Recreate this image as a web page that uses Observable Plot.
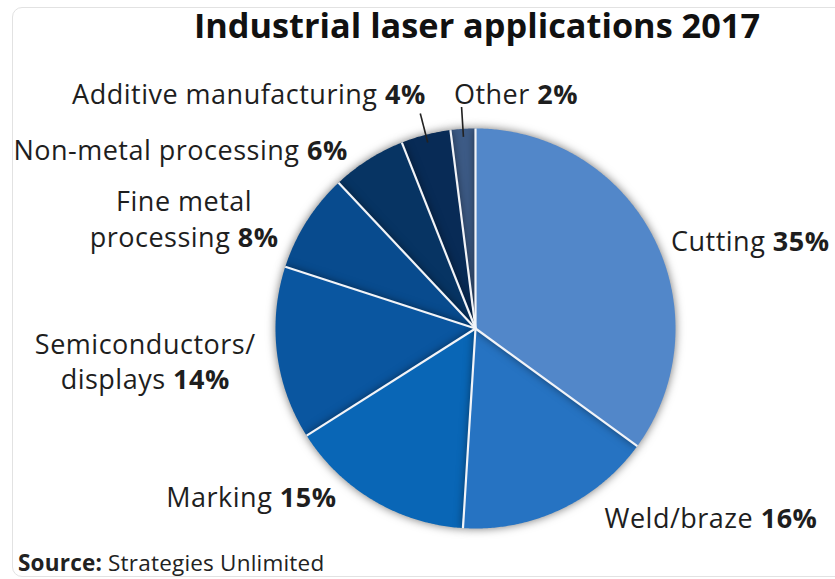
<!DOCTYPE html>
<html>
<head>
<meta charset="utf-8">
<script src="https://cdn.jsdelivr.net/npm/d3@7"></script>
<script src="https://cdn.jsdelivr.net/npm/@observablehq/plot@0.6"></script>
<style>
  html, body { margin: 0; padding: 0; background: #fff; }
  #wrap { position: relative; width: 835px; height: 579px; overflow: hidden; font-family: "Open Sans", Lato, sans-serif; color: #1e1e1e; }
  #frame { position: absolute; left: 12px; top: 7px; width: 840px; height: 570px; border: 1px solid #e2e2e2; border-radius: 10px; box-sizing: border-box; }
  #title { position: absolute; left: 117px; width: 720px; top: 4px; text-align: center; font-weight: 700; font-size: 34.3px; line-height: 42px; color: #111; white-space: nowrap; }
  #chart { position: absolute; left: 0; top: 50px; }
  #chart g[aria-label="text"] text { letter-spacing: 0.5px; }
  #source { position: absolute; left: 18px; top: 550px; font-size: 22.5px; line-height: 26px; letter-spacing: 0.2px; color: #222; white-space: nowrap; }
  #chart g[aria-label="line"] path { filter: drop-shadow(0px 0px 5px rgba(0,0,0,0.55)); }
</style>
</head>
<body>
<div id="wrap">
  <div id="frame"></div>
  <div id="title">Industrial laser applications 2017</div>
  <div id="chart"></div>
  <div id="source"><b>Source:</b> Strategies Unlimited</div>
</div>
<script>
// ---- data ----
const categories = ["Cutting", "Weld/braze", "Marking", "Semiconductors/\ndisplays", "Fine metal\nprocessing", "Non-metal processing", "Additive manufacturing", "Other"];
const shares = [35, 16, 15, 14, 8, 6, 4, 2];
const sliceColors = ["#5287c9", "#2673c2", "#0966b6", "#0a56a0", "#084b8e", "#073463", "#082b56", "#3d5b86"];
// ---- label layout (anchor + pixel nudges) ----
const labelAnchor = ["start", "start", "end", "middle", "middle", "end", "end", "start"];
const labelDx = [3, 37, -29, -116, -109, -12, 4, -8];
const labelDy = [9, -7, -19, 5, 5, 3, -27, -20];
const withLeader = [false, false, false, false, false, false, true, true];

// ---- geometry from d3.pie ----
const arcs = d3.pie().sort(null).value(d => d)(shares);
const pts = [];
arcs.forEach((a, i) => {
  const name = categories[i];
  const n = Math.max(4, Math.ceil((a.endAngle - a.startAngle) / (Math.PI / 360)));
  pts.push({name, x: 0, y: 0});
  for (let k = 0; k <= n; k++) {
    const t = a.startAngle + (a.endAngle - a.startAngle) * k / n;
    pts.push({name, x: Math.sin(t), y: Math.cos(t)});
  }
  pts.push({name, x: 0, y: 0});
});
// draw from last to first so that earlier slices cast their shadow on later ones
const order = categories.slice().reverse();
pts.sort((p, q) => order.indexOf(p.name) - order.indexOf(q.name));

const edges = arcs.map(a => ({x: Math.sin(a.startAngle), y: Math.cos(a.startAngle)}));

const mids = arcs.map(a => (a.startAngle + a.endAngle) / 2);
const labels = categories.map((c, i) => ({
  text: c + " " + shares[i] + "%",
  anchor: labelAnchor[i],
  x: 1.08 * Math.sin(mids[i]),
  y: 1.08 * Math.cos(mids[i]),
  dx: labelDx[i],
  dy: labelDy[i]
}));
const leaders = mids.filter((m, i) => withLeader[i]).map(m => ({
  x1: 0.96 * Math.sin(m), y1: 0.96 * Math.cos(m),
  x2: 1.11 * Math.sin(m), y2: 1.11 * Math.cos(m)
}));

const textOpts = (anchor) => ({
  x: "x", y: "y", text: "text",
  textAnchor: anchor, lineAnchor: "middle",
  fontSize: 27, lineHeight: 1.3, fill: "#1e1e1e",
  fontFamily: "Open Sans"
});

const marks = [
  Plot.line(pts, {x: "x", y: "y", z: "name", fill: "name", stroke: "none"}),
  Plot.link(edges, {x1: 0, y1: 0, x2: "x", y2: "y", stroke: "#f2f4f8", strokeWidth: 2.2}),
  Plot.link(leaders, {x1: "x1", y1: "y1", x2: "x2", y2: "y2", stroke: "#222", strokeWidth: 1.6})
];
labels.forEach(r => {
  marks.push(Plot.text([r], {...textOpts(r.anchor), dx: r.dx, dy: r.dy}));
});

const chart = Plot.plot({
  width: 835,
  height: 500,
  marginLeft: 275,
  marginRight: 160,
  marginTop: 78,
  marginBottom: 22,
  x: {domain: [-1, 1], axis: null},
  y: {domain: [-1, 1], axis: null},
  color: {domain: categories, range: sliceColors},
  style: {fontFamily: "Open Sans", overflow: "visible", background: "transparent"},
  marks
});

// make the percentage bold
chart.querySelectorAll('g[aria-label="text"] text').forEach(t => {
  const tspans = t.querySelectorAll("tspan");
  const target = tspans.length ? tspans[tspans.length - 1] : t;
  const s = target.textContent;
  const m = s.match(/^(.*\s)(\d+%)$/);
  if (m) {
    target.textContent = m[1];
    const b = document.createElementNS("http://www.w3.org/2000/svg", "tspan");
    b.setAttribute("font-weight", "bold");
    b.textContent = m[2];
    target.appendChild(b);
  }
});

document.getElementById("chart").appendChild(chart);
</script>
</body>
</html>
